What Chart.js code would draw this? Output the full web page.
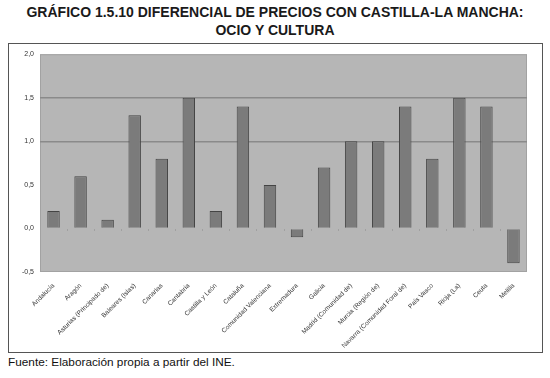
<!DOCTYPE html>
<html>
<head>
<meta charset="utf-8">
<script src="https://cdn.jsdelivr.net/npm/chart.js@4/dist/chart.umd.min.js"></script>
<style>
  html, body { margin:0; padding:0; background:#fff; width:550px; height:378px; overflow:hidden; font-family:"Liberation Sans", Arial, sans-serif; }
  #title { position:absolute; left:0; top:3px; width:550px; text-align:center; font-weight:bold; font-size:14px; line-height:18px; color:#1a1a1a; }
  #frame { position:absolute; left:8px; top:43px; width:533px; height:308px; border:1px solid #555; }
  #wrap { position:absolute; left:0; top:0; width:533px; height:308px; }
  #foot { position:absolute; left:8px; top:355px; font-size:11.8px; color:#111; }
</style>
</head>
<body>
<div id="title">GRÁFICO 1.5.10 DIFERENCIAL DE PRECIOS CON CASTILLA-LA MANCHA:<br>OCIO Y CULTURA</div>
<div id="frame"><div id="wrap"><canvas id="c"></canvas></div></div>
<div id="foot">Fuente: Elaboración propia a partir del INE.</div>
<script>
const categories = ["Andalucía","Aragón","Asturias (Principado de)","Baleares (Islas)","Canarias","Cantabria","Castilla y León","Cataluña","Comunidad Valenciana","Extremadura","Galicia","Madrid (Comunidad de)","Murcia (Región de)","Navarra (Comunidad Foral de)","País Vasco","Rioja (La)","Ceuta","Melilla"];
const values = [0.2, 0.6, 0.1, 1.3, 0.8, 1.5, 0.2, 1.4, 0.5, -0.1, 0.7, 1.0, 1.0, 1.4, 0.8, 1.5, 1.4, -0.4];
const yTicks = [-0.5, 0, 0.5, 1.0, 1.5, 2.0];

const plotBg = {
  id: 'plotBg',
  beforeDraw(chart) {
    const {ctx, chartArea: a} = chart;
    ctx.save();
    ctx.fillStyle = '#b6b6b6';
    ctx.fillRect(a.left, a.top, a.right - a.left, a.bottom - a.top);
    ctx.strokeStyle = '#a2a2a2';
    ctx.lineWidth = 1;
    ctx.strokeRect(a.left + 0.5, a.top + 0.5, a.right - a.left - 1, a.bottom - a.top - 1);
    const y0 = chart.scales.y.getPixelForValue(0);
    const xs = chart.scales.x;
    ctx.fillStyle = '#a0a0a0';
    for (let i = 1; i < categories.length; i++) {
      const x = (xs.getPixelForValue(i - 1) + xs.getPixelForValue(i)) / 2;
      ctx.fillRect(Math.round(x), Math.round(y0) + 1, 1, 2);
    }
    ctx.restore();
  }
};

new Chart(document.getElementById('c'), {
  type: 'bar',
  data: {
    labels: categories,
    datasets: [{
      data: values,
      backgroundColor: '#7b7b7b',
      borderColor: '#444',
      borderWidth: 1,
      barPercentage: 0.5,
      categoryPercentage: 0.92
    }]
  },
  options: {
    responsive: true,
    maintainAspectRatio: false,
    animation: false,
    layout: { padding: { top: 8, right: 15, left: 0, bottom: 0 } },
    plugins: { legend: { display: false }, tooltip: { enabled: false } },
    scales: {
      x: {
        grid: { display: false },
        border: { display: false },
        ticks: {
          autoSkip: false, maxRotation: 45, minRotation: 45,
          font: { family: '"Liberation Sans", Arial, sans-serif', size: 6.5 },
          color: '#333', padding: 2
        },
        afterFit(s) { s.height = 80; }
      },
      y: {
        min: -0.5, max: 2.0,
        afterBuildTicks(s) { s.ticks = yTicks.map(v => ({ value: v })); },
        grid: {
          color: c => (c.tick && (c.tick.value === 1 || c.tick.value === 1.5)) ? '#8a8a8a' : 'rgba(0,0,0,0)',
          lineWidth: 1.5,
          drawTicks: false
        },
        border: { display: false },
        ticks: {
          callback: v => v.toFixed(1).replace('.', ','),
          font: { family: '"Liberation Sans", Arial, sans-serif', size: 7 },
          color: '#333', padding: 6
        },
        afterFit(s) { s.width = 31; }
      }
    }
  },
  plugins: [plotBg]
});
</script>
</body>
</html>
